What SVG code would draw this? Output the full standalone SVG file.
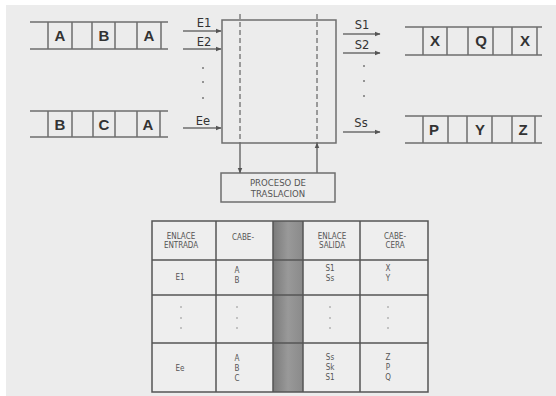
<svg xmlns="http://www.w3.org/2000/svg" width="556" height="396" viewBox="0 0 556 396">
<defs>
<style>
.ln{stroke:#6e6e6e;stroke-width:1.5;fill:none}
.tl{stroke:#555;stroke-width:1.5;fill:none}
.dash{stroke:#6e6e6e;stroke-width:1.3;fill:none;stroke-dasharray:5,3}
.big{font-family:"Liberation Sans",Arial,sans-serif;font-weight:bold;font-size:15px;fill:#333;text-anchor:middle}
.lab{font-family:"DejaVu Sans","Liberation Sans",sans-serif;font-size:11.5px;fill:#333;text-anchor:middle}
.sm{font-family:"DejaVu Sans Condensed","DejaVu Sans",sans-serif;font-size:8px;fill:#555;text-anchor:middle}
.pr{font-family:"DejaVu Sans Condensed","DejaVu Sans",sans-serif;font-size:9.5px;fill:#555;text-anchor:middle}
.dot{fill:#777}
</style>
<marker id="ah" viewBox="0 0 10 10" refX="9" refY="5" markerWidth="6" markerHeight="6" orient="auto-start-reverse" markerUnits="userSpaceOnUse">
<path d="M0,1 L10,5 L0,9 z" fill="#555"/>
</marker>
<linearGradient id="gcol" x1="0" y1="0" x2="1" y2="0">
<stop offset="0" stop-color="#7a7a7a"/>
<stop offset="0.5" stop-color="#999"/>
<stop offset="1" stop-color="#8a8a8a"/>
</linearGradient>
</defs>
<rect x="0" y="0" width="556" height="396" fill="#ffffff"/>
<rect x="6" y="5" width="550" height="391" fill="#ececec"/>

<g id="tape-in1">
<line class="ln" x1="30" y1="22" x2="168" y2="22"/>
<line class="ln" x1="30" y1="49" x2="168" y2="49"/>
<path class="ln" d="M48,22V49M72,22V49M92,22V49M115,22V49M137,22V49M161,22V49"/>
<text class="big" x="60" y="41">A</text>
<text class="big" x="104" y="41">B</text>
<text class="big" x="149" y="41">A</text>
</g>
<g id="tape-in2">
<line class="ln" x1="30" y1="111" x2="168" y2="111"/>
<line class="ln" x1="30" y1="137" x2="168" y2="137"/>
<path class="ln" d="M48,111V137M72,111V137M93,111V137M115,111V137M137,111V137M160,111V137"/>
<text class="big" x="60" y="130">B</text>
<text class="big" x="104" y="130">C</text>
<text class="big" x="148" y="130">A</text>
</g>
<g id="tape-out1">
<line class="ln" x1="405" y1="27" x2="542" y2="27"/>
<line class="ln" x1="405" y1="55" x2="542" y2="55"/>
<path class="ln" d="M423,27V55M447,27V55M468,27V55M493,27V55M512,27V55M537,27V55"/>
<text class="big" x="435" y="46">X</text>
<text class="big" x="481" y="46">Q</text>
<text class="big" x="525" y="46">X</text>
</g>
<g id="tape-out2">
<line class="ln" x1="405" y1="116" x2="542" y2="116"/>
<line class="ln" x1="405" y1="143" x2="542" y2="143"/>
<path class="ln" d="M423,116V143M448,116V143M467,116V143M492,116V143M512,116V143M535,116V143"/>
<text class="big" x="434" y="135">P</text>
<text class="big" x="480" y="135">Y</text>
<text class="big" x="523" y="135">Z</text>
</g>

<g id="process">
<rect class="ln" x="222" y="20" width="114" height="123"/>
</g>
<g id="traslacion">
<rect class="ln" x="221" y="173" width="114" height="29"/>
<text class="pr" x="278" y="186">PROCESO DE</text>
<text class="pr" x="278" y="197">TRASLACION</text>
</g>

<g id="connectors">
<line class="dash" x1="240" y1="14" x2="240" y2="143"/>
<line class="dash" x1="317" y1="14" x2="317" y2="143"/>
<line class="ln" x1="240" y1="143" x2="240" y2="173" marker-end="url(#ah)"/>
<line class="ln" x1="317" y1="173" x2="317" y2="143" marker-end="url(#ah)"/>
<line class="ln" x1="183" y1="31" x2="221" y2="31" marker-end="url(#ah)"/>
<line class="ln" x1="183" y1="49" x2="221" y2="49" marker-end="url(#ah)"/>
<line class="ln" x1="183" y1="128" x2="221" y2="128" marker-end="url(#ah)"/>
<line class="ln" x1="343" y1="34" x2="380" y2="34" marker-end="url(#ah)"/>
<line class="ln" x1="343" y1="53" x2="380" y2="53" marker-end="url(#ah)"/>
<line class="ln" x1="343" y1="132" x2="380" y2="132" marker-end="url(#ah)"/>
</g>

<g id="labels">
<text class="lab" x="204" y="27">E1</text>
<text class="lab" x="204" y="46">E2</text>
<text class="lab" x="203" y="125">Ee</text>
<circle class="dot" cx="203" cy="68" r="1"/>
<circle class="dot" cx="203" cy="82" r="1"/>
<circle class="dot" cx="203" cy="98" r="1"/>
<text class="lab" x="362" y="29">S1</text>
<text class="lab" x="362" y="49">S2</text>
<text class="lab" x="361" y="127">Ss</text>
<circle class="dot" cx="364" cy="66" r="1"/>
<circle class="dot" cx="364" cy="81" r="1"/>
<circle class="dot" cx="364" cy="96" r="1"/>
</g>

<g id="table">
<rect x="152" y="221" width="276" height="171" fill="#eeeeee"/>
<rect x="273" y="221" width="30" height="171" fill="url(#gcol)"/>
<rect class="tl" x="152" y="221" width="276" height="171"/>
<path class="tl" d="M216,221V392M273,221V392M303,221V392M360,221V392M152,260H428M152,295H428M152,343H428"/>
<text class="sm" x="181" y="239">ENLACE</text>
<text class="sm" x="181" y="248">ENTRADA</text>
<text class="sm" x="243" y="240">CABE-</text>
<text class="sm" x="332" y="239">ENLACE</text>
<text class="sm" x="332" y="248">SALIDA</text>
<text class="sm" x="395" y="239">CABE-</text>
<text class="sm" x="395" y="248">CERA</text>
<text class="sm" x="180" y="280">E1</text>
<text class="sm" x="237" y="273">A</text>
<text class="sm" x="237" y="283">B</text>
<text class="sm" x="330" y="271">S1</text>
<text class="sm" x="330" y="281">Ss</text>
<text class="sm" x="388" y="271">X</text>
<text class="sm" x="388" y="281">Y</text>
<g fill="#888">
<circle cx="181" cy="307" r="0.8"/><circle cx="181" cy="318" r="0.8"/><circle cx="181" cy="328" r="0.8"/>
<circle cx="237" cy="307" r="0.8"/><circle cx="237" cy="318" r="0.8"/><circle cx="237" cy="328" r="0.8"/>
<circle cx="330" cy="307" r="0.8"/><circle cx="330" cy="318" r="0.8"/><circle cx="330" cy="328" r="0.8"/>
<circle cx="388" cy="307" r="0.8"/><circle cx="388" cy="318" r="0.8"/><circle cx="388" cy="328" r="0.8"/>
</g>
<text class="sm" x="180" y="371">Ee</text>
<text class="sm" x="237" y="361">A</text>
<text class="sm" x="237" y="371">B</text>
<text class="sm" x="237" y="381">C</text>
<text class="sm" x="330" y="360">Ss</text>
<text class="sm" x="330" y="370">Sk</text>
<text class="sm" x="330" y="380">S1</text>
<text class="sm" x="388" y="360">Z</text>
<text class="sm" x="388" y="370">P</text>
<text class="sm" x="388" y="380">Q</text>
</g>
</svg>
